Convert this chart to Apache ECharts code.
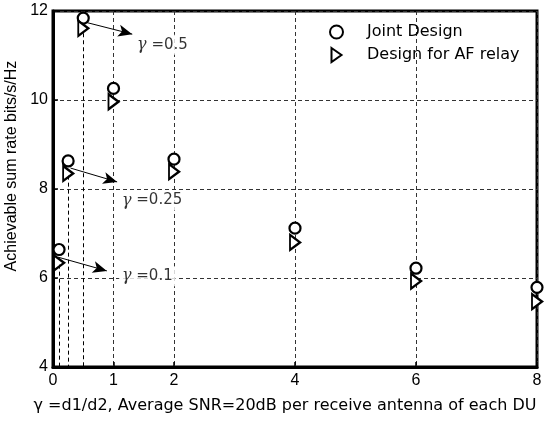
<!DOCTYPE html>
<html>
<head>
<meta charset="utf-8">
<script src="https://cdn.jsdelivr.net/npm/echarts@6/dist/echarts.min.js"></script>
<style>
  html, body { margin: 0; padding: 0; background: #fff; }
  #chart { width: 557px; height: 423px; }
</style>
</head>
<body>
<div id="chart"></div>
<script>
// data
const gammas = [0.1, 0.25, 0.5, 1, 2, 4, 6, 8]
const jointDesign = [6.64, 8.63, 11.84, 10.26, 8.67, 7.12, 6.22, 5.79]
const afRelay = [6.34, 8.35, 11.61, 9.96, 8.39, 6.80, 5.93, 5.47]

const xTicks = [0, 1, 2, 4, 6, 8]

// annotations: label text, label anchor, arrow start, arrow end
const notes = [
    { text: '0.5', at: [1.34, 11.24], from: [0.56, 11.74], to: [1.31, 11.48] },
    { text: '0.25', at: [1.09, 7.74], from: [0.29, 8.47], to: [1.06, 8.16] },
    { text: '0.1', at: [1.09, 6.04], from: [0.08, 6.47], to: [0.89, 6.16] },
]
// vertical drop lines at the small gamma values
const dropX = [0.1, 0.25, 0.5]
const dropTop = [6.3, 8.3, 11.5]

const TRI = 'path://M0,0 L10,7 L0,14 Z'
const wideFont = '"DejaVu Sans", sans-serif'
const numFont = '"Liberation Sans", Arial, sans-serif'

const container = document.getElementById('chart')
const myChart = echarts.init(container)

const gridLine = { show: true, lineStyle: { color: '#333', type: [4, 3], width: 1 } }

const option = {
    animation: false,
    backgroundColor: '#fff',
    grid: {
        left: 53, right: 20, top: 11, bottom: 56,
        outerBoundsMode: 'none',
        show: true, borderColor: '#000', borderWidth: 3
    },
    legend: {
        orient: 'vertical',
        left: 324, top: 19,
        itemWidth: 13, itemHeight: 14, itemGap: 7,
        textStyle: { fontFamily: wideFont, fontSize: 16, color: '#000', padding: [0, 0, 0, 19] },
        data: [
            { name: 'Joint Design', icon: 'circle' },
            { name: 'Design for AF relay', icon: TRI }
        ]
    },
    xAxis: {
        type: 'value',
        min: 0, max: 8,
        axisLabel: { customValues: xTicks, color: '#000', fontSize: 16, fontFamily: numFont, margin: 6 },
        axisTick: { customValues: xTicks, inside: true, length: 5, lineStyle: { color: '#000', width: 1.5 } },
        axisLine: { lineStyle: { color: '#000', width: 3 } },
        splitLine: gridLine,
        name: 'γ =d1/d2, Average SNR=20dB per receive antenna of each DU',
        nameLocation: 'middle',
        nameGap: 31,
        nameTextStyle: { color: '#000', fontSize: 16, fontFamily: wideFont, padding: [0, 20, 0, 0] }
    },
    yAxis: {
        type: 'value',
        min: 4, max: 12, interval: 2,
        axisLabel: { color: '#000', fontSize: 16, fontFamily: numFont, margin: 5 },
        axisTick: { inside: true, length: 5, lineStyle: { color: '#000', width: 1.5 } },
        axisLine: { lineStyle: { color: '#000', width: 3 } },
        splitLine: gridLine,
        name: 'Achievable sum rate bits/s/Hz',
        nameLocation: 'middle',
        nameGap: 25,
        nameTextStyle: { color: '#000', fontSize: 16, fontFamily: numFont, padding: [0, 0, 0, 46] }
    },
    series: [
        {
            name: 'notes',
            type: 'scatter',
            symbolSize: 0,
            silent: true,
            z: 1,
            data: notes.map(n => ({ value: n.at, name: n.text })),
            label: {
                show: true,
                position: 'right',
                distance: 0,
                color: '#000',
                fontSize: 15,
                fontFamily: wideFont,
                backgroundColor: '#fff',
                padding: [2, 3],
                formatter: p => '{g|γ} =' + p.name,
                rich: { g: { fontStyle: 'italic', fontFamily: '"DejaVu Serif", serif', fontSize: 16, color: '#000' } }
            },
            markLine: {
                silent: true,
                animation: false,
                label: { show: false },
                data: notes.map(n => [
                    { coord: n.from, symbol: 'none', lineStyle: { type: 'solid', color: '#000', width: 1 } },
                    { coord: n.to, symbol: 'arrow', symbolSize: [9, 14] }
                ]).concat(dropX.map((x, i) => [
                    { coord: [x, dropTop[i]], symbol: 'none', lineStyle: { type: [4, 3], color: '#000', width: 1 } },
                    { coord: [x, 4], symbol: 'none' }
                ]))
            }
        },
        {
            name: 'Joint Design',
            type: 'scatter',
            symbol: 'circle',
            symbolSize: 11,
            z: 3,
            itemStyle: { color: '#fff', borderColor: '#000', borderWidth: 2.2, opacity: 1 },
            data: gammas.map((g, i) => [g, jointDesign[i]])
        },
        {
            name: 'Design for AF relay',
            type: 'scatter',
            symbol: TRI,
            symbolSize: [10, 15],
            z: 3,
            itemStyle: { color: '#fff', borderColor: '#000', borderWidth: 2.2, opacity: 1 },
            data: gammas.map((g, i) => [g, afRelay[i]])
        }
    ]
}

myChart.setOption(option)
</script>
</body>
</html>
